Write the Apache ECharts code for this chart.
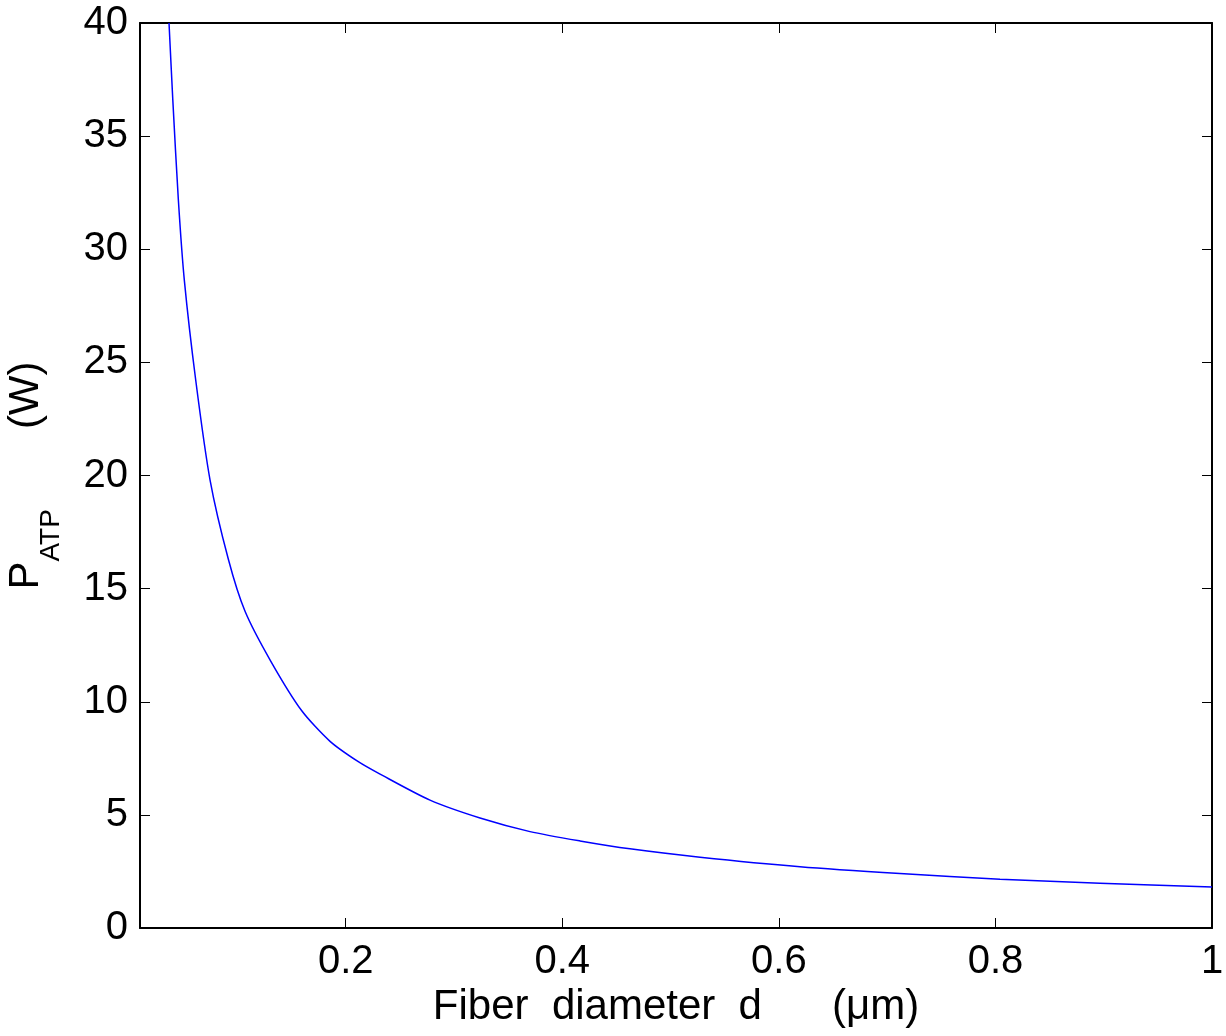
<!DOCTYPE html>
<html>
<head>
<meta charset="utf-8">
<script src="https://cdn.jsdelivr.net/npm/echarts@6/dist/echarts.min.js"></script>
<style>
  html, body { margin: 0; padding: 0; background: #fff; }
  #chart { width: 1226px; height: 1036px; }
</style>
</head>
<body>
<div id="chart"></div>
<script>
// Fiber diameter d (µm)
var diameter = [0.0368, 0.0403, 0.0454, 0.0510, 0.0615, 0.0747, 0.0916, 0.1070, 0.1307, 0.1594,
                0.1855, 0.2116, 0.2317, 0.2778, 0.3240, 0.3702, 0.4163, 0.4625, 0.5272, 0.6195,
                0.7118, 0.8042, 0.8965, 1.0];
// P_ATP (W)
var power = [40.0, 36.6, 32.2, 28.6, 24.2, 19.8, 16.3, 14.0, 11.8, 9.6,
             8.25, 7.35, 6.8, 5.65, 4.86, 4.26, 3.85, 3.50, 3.13, 2.71,
             2.41, 2.16, 1.98, 1.81];
var xTicks = [0.2, 0.4, 0.6, 0.8, 1];
var yTicks = [0, 5, 10, 15, 20, 25, 30, 35, 40];

var FONT = '"Liberation Sans", Arial, Helvetica, sans-serif';
var points = diameter.map(function (d, i) { return [d, power[i]]; });

var chart = echarts.init(document.getElementById('chart'), null, { renderer: 'canvas' });
var axisLine = { show: true, onZero: false, lineStyle: { color: '#000', width: 2 } };
function ticks(vals) {
  return { show: true, inside: true, length: 10, customValues: vals, lineStyle: { color: '#000', width: 1 } };
}

chart.setOption({
  animation: false,
  backgroundColor: '#ffffff',
  grid: { left: 140, right: 14, top: 23, bottom: 108, containLabel: false, outerBoundsMode: 'none' },
  xAxis: [{
    type: 'value', min: 0.01, max: 1,
    axisLine: axisLine,
    axisTick: ticks(xTicks),
    axisLabel: { customValues: xTicks, color: '#000', fontSize: 40, fontFamily: FONT, margin: 14, hideOverlap: false },
    splitLine: { show: false },
    name: 'Fiber  diameter  d      (\u03bcm)',
    nameLocation: 'middle', nameGap: 58,
    nameTextStyle: { color: '#000', fontSize: 42, fontFamily: FONT }
  }, {
    type: 'value', min: 0.01, max: 1, position: 'top',
    axisLine: axisLine,
    axisTick: ticks(xTicks),
    axisLabel: { show: false, customValues: xTicks },
    splitLine: { show: false }
  }],
  yAxis: [{
    type: 'value', min: 0, max: 40,
    axisLine: axisLine,
    axisTick: ticks(yTicks),
    axisLabel: { customValues: yTicks, color: '#000', fontSize: 40, fontFamily: FONT, margin: 12, hideOverlap: false },
    splitLine: { show: false },
    name: '{p|P}{s|ATP}{g|}{w|(W)}',
    nameLocation: 'middle', nameRotate: 90, nameGap: 75,
    nameTextStyle: {
      color: '#000', fontFamily: FONT,
      rich: {
        p: { fontSize: 42, fontFamily: FONT, color: '#000', verticalAlign: 'top', lineHeight: 60 },
        s: { fontSize: 28, fontFamily: FONT, color: '#000', verticalAlign: 'bottom', lineHeight: 60 },
        g: { width: 80, lineHeight: 60 },
        w: { fontSize: 42, fontFamily: FONT, color: '#000', verticalAlign: 'top', lineHeight: 60 }
      }
    }
  }, {
    type: 'value', min: 0, max: 40, position: 'right',
    axisLine: axisLine,
    axisTick: ticks(yTicks),
    axisLabel: { show: false, customValues: yTicks },
    splitLine: { show: false }
  }],
  series: [{
    type: 'line',
    data: points,
    showSymbol: false,
    smooth: 0.25,
    clip: true,
    lineStyle: { color: '#0000ff', width: 1.5 },
    itemStyle: { color: '#0000ff' }
  }]
});
</script>
</body>
</html>
